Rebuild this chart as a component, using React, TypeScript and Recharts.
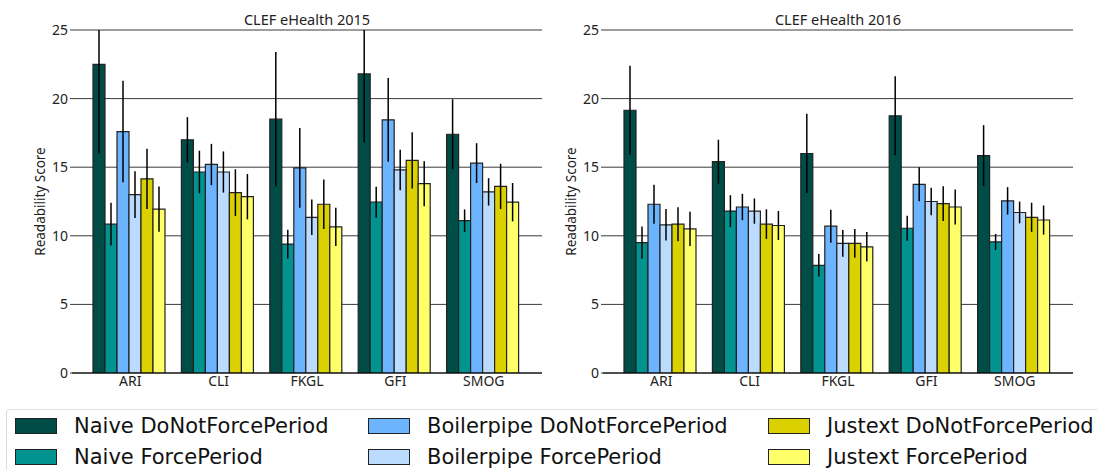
import React from 'react';
import { BarChart, Bar, XAxis, YAxis, CartesianGrid, ErrorBar } from 'recharts';

// readability metrics on the x axis
const METRICS = ['ARI', 'CLI', 'FKGL', 'GFI', 'SMOG'];

const SERIES = [
    'Naive DoNotForcePeriod',
    'Naive ForcePeriod',
    'Boilerpipe DoNotForcePeriod',
    'Boilerpipe ForcePeriod',
    'Justext DoNotForcePeriod',
    'Justext ForcePeriod',
];

const COLORS = ['#004c46', '#009390', '#6db4ff', '#bbdcff', '#dbd000', '#ffff6a'];

const Y_TICKS = [0, 5, 10, 15, 20, 25];
const Y_MAX = 25;

// one row per series, values follow METRICS
const MEAN_2015 = [
    [22.5, 17.0, 18.5, 21.8, 17.4],
    [10.85, 14.65, 9.4, 12.45, 11.1],
    [17.6, 15.2, 14.95, 18.45, 15.3],
    [13.0, 14.65, 11.35, 14.8, 13.2],
    [14.15, 13.15, 12.3, 15.5, 13.6],
    [11.95, 12.85, 10.65, 13.8, 12.45],
];
const ERR_2015 = [
    [6.5, 1.65, 4.9, 5.0, 2.55],
    [1.55, 1.55, 1.05, 1.13, 0.82],
    [3.7, 1.5, 2.9, 3.05, 1.45],
    [1.7, 1.5, 1.3, 1.48, 1.0],
    [2.2, 1.7, 1.8, 2.05, 1.65],
    [1.65, 1.65, 1.4, 1.64, 1.4],
];

const MEAN_2016 = [
    [19.15, 15.4, 16.0, 18.75, 15.85],
    [9.5, 11.8, 7.85, 10.55, 9.55],
    [12.3, 12.1, 10.7, 13.75, 12.55],
    [10.8, 11.8, 9.45, 12.5, 11.7],
    [10.85, 10.85, 9.45, 12.35, 11.35],
    [10.5, 10.75, 9.2, 12.1, 11.15],
];
const ERR_2016 = [
    [3.25, 1.6, 2.9, 2.87, 2.22],
    [1.18, 1.16, 0.82, 0.91, 0.58],
    [1.42, 0.96, 1.2, 1.24, 1.0],
    [1.15, 0.92, 0.97, 1.0, 0.79],
    [1.24, 1.08, 1.05, 1.27, 1.06],
    [1.25, 1.06, 1.07, 1.27, 1.06],
];

// error bars are cut at the top of the axis, like the clipped plot
const buildRows = (means: number[][], errs: number[][]) =>
    METRICS.map((metric, i) => {
        const row: Record<string, any> = { metric };
        SERIES.forEach((_, k) => {
            const m = means[k][i];
            const e = errs[k][i];
            row[`s${k}`] = m;
            row[`e${k}`] = [e, Math.min(e, Y_MAX - m)];
        });
        return row;
    });

const FONT = '"Noto Sans", sans-serif';

const Panel = ({ title, data, left }: { title: string; data: any[]; left: number }) => (
    <div style={{ position: 'absolute', left, top: 0, width: 550, height: 400 }}>
        <div style={{ position: 'absolute', left: 72, top: 9, width: 470, textAlign: 'center', fontFamily: FONT, fontSize: 14.5, lineHeight: '20px', color: '#222' }}>
            {title}
        </div>
        <BarChart
            width={550}
            height={400}
            data={data}
            margin={{ top: 30, right: 8, bottom: 0, left: 0 }}
            barCategoryGap={7}
            barGap={0}
            style={{ fontFamily: FONT }}
        >
            <CartesianGrid horizontal vertical={false} stroke="#3a3a3a" />
            <XAxis
                dataKey="metric"
                height={27}
                padding={{ left: 14, right: 14 }}
                tickLine={false}
                tickSize={0}
                tickMargin={3}
                axisLine={{ stroke: '#000' }}
                tick={{ fill: '#222', fontSize: 14 }}
            />
            <YAxis
                width={72}
                domain={[0, Y_MAX]}
                ticks={Y_TICKS}
                allowDataOverflow
                axisLine={false}
                tickSize={2}
                tickMargin={2}
                tickLine={{ stroke: '#3a3a3a' }}
                tick={{ fill: '#222', fontSize: 14 }}
                label={{ value: 'Readability Score', angle: -90, position: 'insideLeft', offset: 40, style: { textAnchor: 'middle', fill: '#222', fontSize: 13.5 } }}
            />
            {SERIES.map((name, k) => (
                <Bar key={name} dataKey={`s${k}`} name={name} fill={COLORS[k]} stroke="#222" strokeWidth={1.2} isAnimationActive={false}>
                    <ErrorBar dataKey={`e${k}`} width={0} stroke="#000" strokeWidth={1.5} direction="y" isAnimationActive={false} />
                </Bar>
            ))}
        </BarChart>
    </div>
);

const LEGEND_COLS = [15, 368, 768];
const LEGEND_ROWS = [418, 449];

const App = () => {
    const rows2015 = buildRows(MEAN_2015, ERR_2015);
    const rows2016 = buildRows(MEAN_2016, ERR_2016);
    return (
        <div style={{ position: 'absolute', left: 0, top: 0, width: 1097, height: 470, background: '#fff', overflow: 'hidden' }}>
            <Panel title="CLEF eHealth 2015" data={rows2015} left={0} />
            <Panel title="CLEF eHealth 2016" data={rows2016} left={531} />

            {/* shared legend */}
            <div style={{ position: 'absolute', left: 6, top: 409, width: 1100, height: 70, border: '1px solid #ddd', borderRadius: 4, boxSizing: 'border-box' }} />
            {SERIES.map((name, k) => {
                const x = LEGEND_COLS[Math.floor(k / 2)];
                const y = LEGEND_ROWS[k % 2];
                return (
                    <div key={name} style={{ position: 'absolute', left: x, top: y, height: 16, display: 'flex', alignItems: 'center' }}>
                        <div style={{ width: 42, height: 16, background: COLORS[k], border: '1px solid #222', boxSizing: 'border-box', flexShrink: 0 }} />
                        <span style={{ marginLeft: 17, fontFamily: '"DejaVu Sans", sans-serif', fontSize: 21, color: '#111', whiteSpace: 'nowrap' }}>{name}</span>
                    </div>
                );
            })}
        </div>
    );
};

export default App;
